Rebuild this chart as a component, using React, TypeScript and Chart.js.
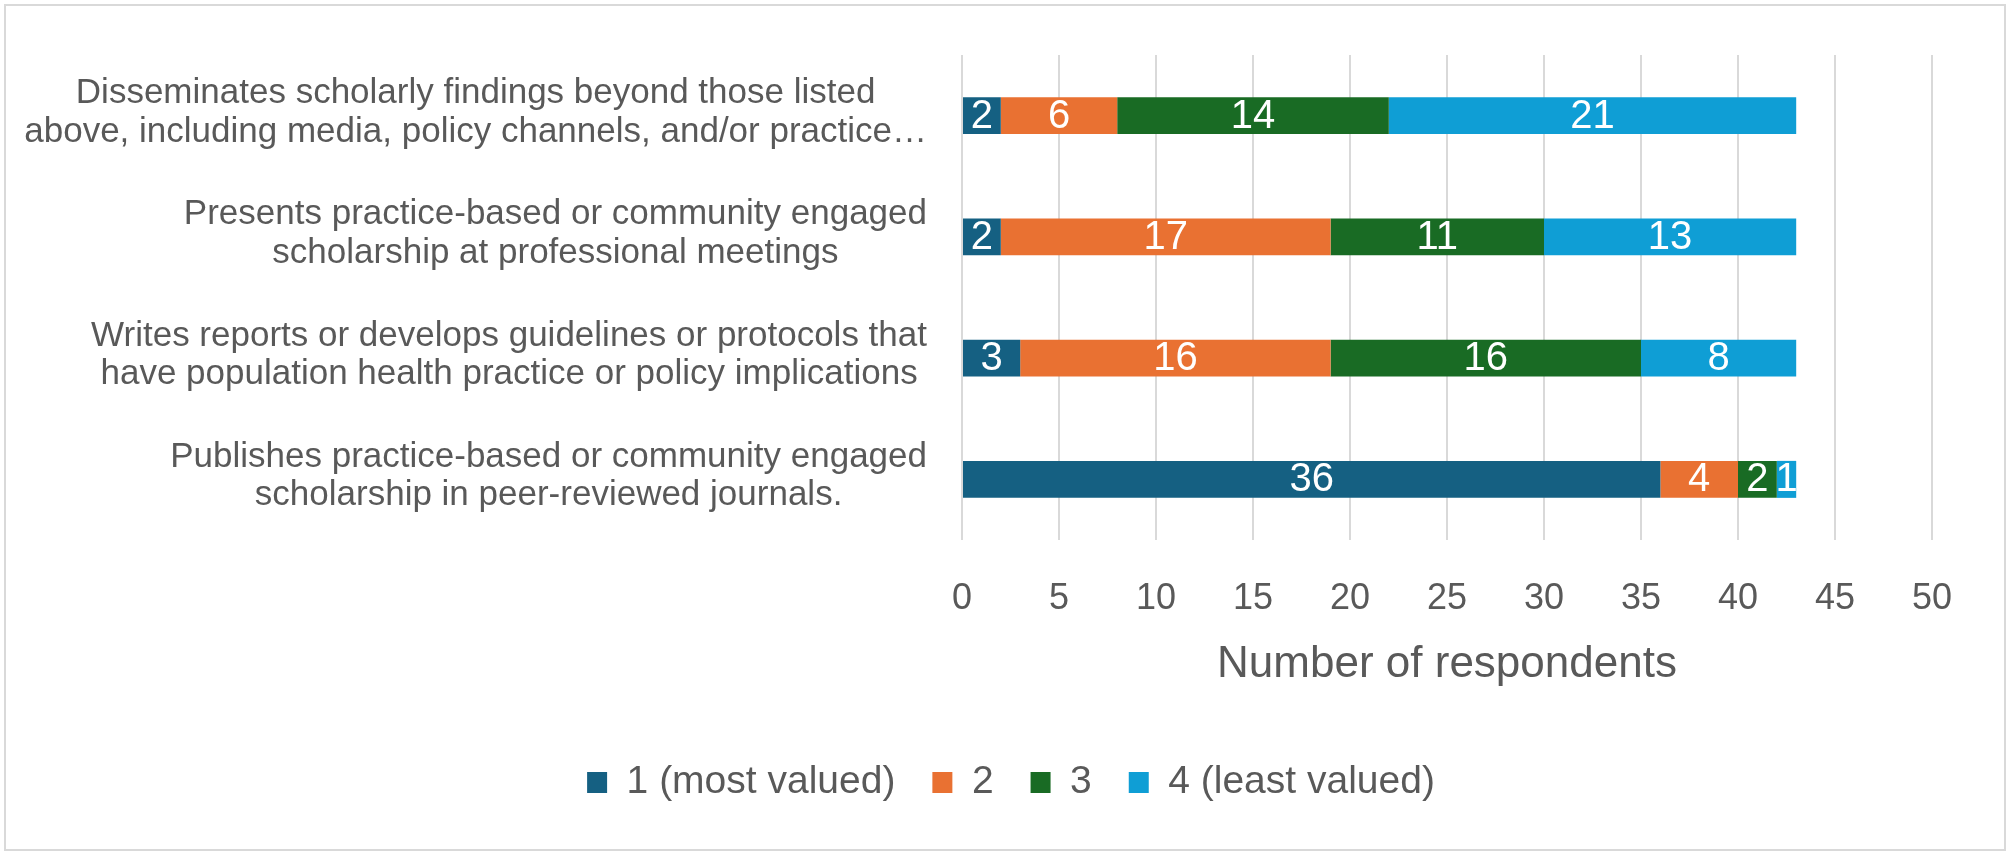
import React, { useEffect, useRef } from 'react';
import { Chart, registerables } from 'chart.js';

Chart.register(...registerables);

const FONT = '"Liberation Sans", Arial, sans-serif';
const TEXT_COLOR = '#595959';

const categories: string[][] = [
  ['Disseminates scholarly findings beyond those listed', 'above, including media, policy channels, and/or practice…'],
  ['Presents practice-based or community engaged', 'scholarship at professional meetings'],
  ['Writes reports or develops guidelines or protocols that', 'have population health practice or policy implications'],
  ['Publishes practice-based or community engaged', 'scholarship in peer-reviewed journals.'],
];

const seriesNames = ['1 (most valued)', '2', '3', '4 (least valued)'];
const rank1Values = [2, 2, 3, 36];
const rank2Values = [6, 17, 16, 4];
const rank3Values = [14, 11, 16, 2];
const rank4Values = [21, 13, 8, 1];
const seriesColors = ['#156082', '#E97132', '#196B24', '#0F9ED5'];

const xTickValues = [0, 5, 10, 15, 20, 25, 30, 35, 40, 45, 50];
const xAxisTitle = 'Number of respondents';

const categoryLabelPlugin = {
  id: 'categoryLabels',
  afterDraw(chart: any) {
    const { ctx, chartArea } = chart;
    const yScale = chart.scales.y;
    ctx.save();
    ctx.font = `35px ${FONT}`;
    ctx.fillStyle = TEXT_COLOR;
    ctx.textAlign = 'center';
    ctx.textBaseline = 'middle';
    const right = chartArea.left - 35;
    const lineHeight = 38.5;
    categories.forEach((lines, i) => {
      const yc = yScale.getPixelForValue(i) - 3;
      const maxW = Math.max(...lines.map((l) => ctx.measureText(l).width));
      const cx = right - maxW / 2;
      lines.forEach((line, j) => {
        const y = yc + (j - (lines.length - 1) / 2) * lineHeight;
        ctx.fillText(line, cx, y);
      });
    });
    ctx.restore();
  },
};

const valueLabelPlugin = {
  id: 'valueLabels',
  afterDatasetsDraw(chart: any) {
    const { ctx } = chart;
    ctx.save();
    ctx.font = `40px ${FONT}`;
    ctx.fillStyle = '#ffffff';
    ctx.textAlign = 'center';
    ctx.textBaseline = 'middle';
    chart.data.datasets.forEach((ds: any, di: number) => {
      const meta = chart.getDatasetMeta(di);
      meta.data.forEach((el: any, i: number) => {
        const v = ds.data[i];
        const { x, y, base } = el.getProps(['x', 'y', 'base'], true);
        ctx.fillText(String(v), (x + base) / 2, y + 1);
      });
    });
    ctx.restore();
  },
};

export default function App() {
  const canvasRef = useRef<HTMLCanvasElement>(null);

  useEffect(() => {
    const valueSets = [rank1Values, rank2Values, rank3Values, rank4Values];
    const chart = new Chart(canvasRef.current as HTMLCanvasElement, {
      type: 'bar',
      data: {
        labels: categories,
        datasets: valueSets.map((vals, i) => ({
          label: seriesNames[i],
          data: vals,
          backgroundColor: seriesColors[i],
          borderWidth: 0,
          categoryPercentage: 1,
          barPercentage: 0.305,
        })),
      },
      options: {
        indexAxis: 'y',
        animation: false,
        responsive: true,
        maintainAspectRatio: false,
        layout: { padding: { left: 90, right: 80, top: 55, bottom: 45 } },
        plugins: {
          tooltip: { enabled: false },
          legend: {
            position: 'bottom',
            labels: {
              boxWidth: 20,
              boxHeight: 21,
              padding: 37,
              color: TEXT_COLOR,
              font: { family: FONT, size: 39 },
            },
          },
        },
        scales: {
          x: {
            type: 'linear',
            stacked: true,
            min: 0,
            max: 50,
            afterBuildTicks: (scale: any) => {
              scale.ticks = xTickValues.map((v) => ({ value: v }));
            },
            ticks: {
              color: TEXT_COLOR,
              font: { family: FONT, size: 36 },
              padding: 37,
            },
            grid: { color: '#d9d9d9', lineWidth: 2, drawTicks: false },
            border: { display: false },
            title: {
              display: true,
              text: xAxisTitle,
              color: TEXT_COLOR,
              font: { family: FONT, size: 44 },
              padding: { top: 0, bottom: 35 },
            },
            afterFit: (scale: any) => {
              scale.height = 186;
            },
          },
          y: {
            type: 'category',
            stacked: true,
            ticks: { display: false },
            grid: { display: false },
            border: { display: false },
            afterFit: (scale: any) => {
              scale.width = 872;
            },
          },
        },
      },
      plugins: [valueLabelPlugin, categoryLabelPlugin],
    } as any);
    return () => chart.destroy();
  }, []);

  return (
    <div style={{ position: 'fixed', left: 0, top: 0, width: 2012, height: 857, background: '#ffffff' }}>
      <canvas ref={canvasRef} />
      <div
        style={{
          position: 'absolute',
          left: 4,
          top: 4,
          width: 2002,
          height: 847,
          border: '2px solid #d9d9d9',
          boxSizing: 'border-box',
          pointerEvents: 'none',
        }}
      />
    </div>
  );
}
